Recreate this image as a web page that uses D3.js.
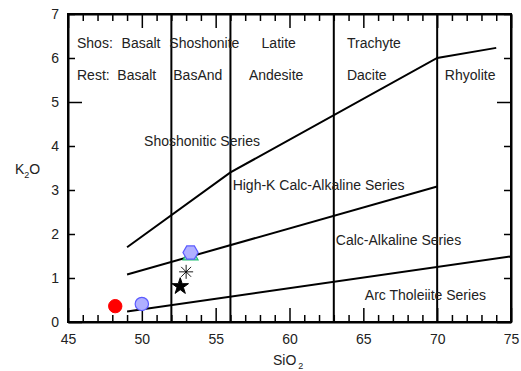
<!DOCTYPE html>
<html>
<head>
<meta charset="utf-8">
<script src="https://cdn.jsdelivr.net/npm/d3@7"></script>
<style>
  body { margin: 0; background: #fff; }
  text { font-family: "Liberation Sans", Arial, sans-serif; }
</style>
</head>
<body>
<div id="chart"></div>
<script>
// boundary lines (SiO2, K2O)
const shosBoundary = [[49, 1.7], [56, 3.4], [70, 6.0], [74, 6.23]];
const highKBoundary = [[49, 1.08], [70, 3.08]];
const thBoundary = [[49, 0.24], [75, 1.49]];
const siO2Dividers = [52, 56, 63, 70];

// rock names
const shosNames = ['Shos:', 'Basalt', 'Shoshonite', 'Latite', 'Trachyte'];
const restNames = ['Rest:', 'Basalt', 'BasAnd', 'Andesite', 'Dacite', 'Rhyolite'];
const seriesNames = ['Shoshonitic Series', 'High-K Calc-Alkaline Series', 'Calc-Alkaline Series', 'Arc Tholeiite Series'];

// samples
const sampleSiO2 = [48.2, 50.0, 53.3, 53.3, 53.0, 52.6];
const sampleK2O = [0.36, 0.41, 1.51, 1.58, 1.14, 0.81];

const xTicks = [45, 50, 55, 60, 65, 70, 75];
const yTicks = [0, 1, 2, 3, 4, 5, 6, 7];

const width = 521, height = 371;
const margin = {top: 14, right: 10, bottom: 49, left: 68};

const svg = d3.select('#chart')
	.append('svg')
	.attr('width', width)
	.attr('height', height);

const x = d3.scaleLinear().domain([45, 75]).range([margin.left, width - margin.right]);
const y = d3.scaleLinear().domain([0, 7]).range([height - margin.bottom, margin.top]);

const line = d3.line().x(d => x(d[0])).y(d => y(d[1]));

// divider verticals
svg.append('g')
	.selectAll('line')
	.data(siO2Dividers)
	.enter()
	.append('line')
	.attr('x1', d => x(d)).attr('x2', d => x(d))
	.attr('y1', y(0)).attr('y2', y(7))
	.attr('stroke', '#000')
	.attr('stroke-width', 2);

[shosBoundary, highKBoundary, thBoundary].forEach(b => {
	svg.append('path')
		.attr('d', line(b))
		.attr('fill', 'none')
		.attr('stroke', '#000')
		.attr('stroke-width', 2);
});

// axes: major every 5 / 1, minor every 1
function drawAxis(axisFn, scale, translate, major, minor, labels) {
	svg.append('g')
		.attr('transform', translate)
		.call(axisFn(scale).tickValues(minor).tickSize(-7).tickFormat(''))
		.call(g => g.select('.domain').remove())
		.selectAll('line').attr('stroke-width', 1.5);
	const g = svg.append('g')
		.attr('transform', translate)
		.call(axisFn(scale).tickValues(major).tickSize(-14).tickSizeOuter(0).tickPadding(labels ? labels : 0)
			.tickFormat(labels ? d3.format('d') : ''));
	g.select('.domain').attr('stroke-width', 2);
	g.selectAll('line').attr('stroke-width', 1.5);
	g.selectAll('text').attr('font-size', 14).attr('fill', '#222')
		.attr('font-family', '"Liberation Sans", Arial, sans-serif');
	return g;
}

const xMinor = d3.range(46, 75).filter(d => d % 5 != 0);
drawAxis(d3.axisBottom, x, `translate(0,${y(0)})`, xTicks, xMinor, 12);
drawAxis(d3.axisTop, x, `translate(0,${y(7)})`, xTicks, xMinor, 0);

const yMinor = yTicks.filter(d => d % 5 != 0);
drawAxis(d3.axisLeft, y, `translate(${x(45)},0)`, [0, 5], yMinor, 0);
drawAxis(d3.axisRight, y, `translate(${x(75)},0)`, [0, 5], yMinor, 0);

// y labels every unit
svg.append('g')
	.selectAll('text')
	.data(yTicks)
	.enter()
	.append('text')
	.attr('x', x(45) - 9)
	.attr('y', d => y(d))
	.attr('dy', '0.36em')
	.attr('text-anchor', 'end')
	.attr('font-size', 14)
	.attr('fill', '#222')
	.text(d => d);

// frame
svg.append('rect')
	.attr('x', x(45)).attr('y', y(7))
	.attr('width', x(75) - x(45)).attr('height', y(0) - y(7))
	.attr('fill', 'none')
	.attr('stroke', '#000')
	.attr('stroke-width', 2);

// rock names
const shosAt = [45.61, 48.63, 51.86, 58.11, 63.89];
const restAt = [45.61, 48.34, 52.13, 57.25, 63.89, 70.52];
const seriesAt = [[50.15, 4.0], [56.15, 3.0], [63.14, 1.76], [65.1, 0.51]];

function addLabels(names, pos) {
	svg.append('g')
		.selectAll('text')
		.data(names)
		.enter()
		.append('text')
		.attr('x', (d, i) => x(pos[i][0]))
		.attr('y', (d, i) => y(pos[i][1]))
		.attr('font-size', 14)
		.attr('fill', '#222')
		.text(d => d);
}
addLabels(shosNames, shosAt.map(d => [d, 6.23]));
addLabels(restNames, restAt.map(d => [d, 5.5]));
addLabels(seriesNames, seriesAt);

// axis titles
const kt = svg.append('text')
	.attr('x', 15).attr('y', 174)
	.attr('font-size', 14).attr('fill', '#222');
kt.append('tspan').text('K');
kt.append('tspan').attr('font-size', 9).attr('dy', 4).text('2');
kt.append('tspan').attr('dy', -4).text('O');

const st = svg.append('text')
	.attr('x', 273).attr('y', 365)
	.attr('font-size', 14).attr('fill', '#222');
st.append('tspan').text('SiO');
st.append('tspan').attr('font-size', 9).attr('dx', 2).attr('dy', 4).text('2');

// samples
const hexagon = {
	draw(ctx, size) {
		const r = Math.sqrt(size / (1.5 * Math.sqrt(3)));
		for (let k = 0; k < 6; k++) {
			const a = k * Math.PI / 3;
			if (k == 0) ctx.moveTo(r * Math.cos(a), r * Math.sin(a));
			else ctx.lineTo(r * Math.cos(a), r * Math.sin(a));
		}
		ctx.closePath();
	}
};
// 8-armed asterisk
const asterisk8 = {
	draw(ctx, size) {
		const r = Math.sqrt(size) / 2;
		for (let k = 0; k < 4; k++) {
			const a = k * Math.PI / 4;
			ctx.moveTo(r * Math.cos(a), r * Math.sin(a));
			ctx.lineTo(-r * Math.cos(a), -r * Math.sin(a));
		}
	}
};
const sampleStyle = [
	{type: d3.symbolCircle, size: 140, fill: '#ff0000', stroke: '#ff0000', sw: 1},
	{type: d3.symbolCircle, size: 140, fill: '#b0b0ff', stroke: '#5a5aff', sw: 1.2},
	{type: d3.symbolTriangle, size: 97, fill: '#a0f0c8', stroke: '#20c070', sw: 1.2},
	{type: hexagon, size: 150, fill: '#b0b0ff', stroke: '#5a5aff', sw: 1.2},
	{type: asterisk8, size: 196, fill: 'none', stroke: '#000', sw: 0.9},
	{type: d3.symbolStar, size: 85, fill: '#000', stroke: '#000', sw: 1}
];

svg.append('g')
	.selectAll('path')
	.data(sampleSiO2.map((d, i) => [d, sampleK2O[i], i]))
	.enter()
	.append('path')
	.attr('transform', d => `translate(${x(d[0])},${y(d[1])})`)
	.attr('d', d => d3.symbol(sampleStyle[d[2]].type, sampleStyle[d[2]].size)())
	.attr('fill', d => sampleStyle[d[2]].fill)
	.attr('stroke', d => sampleStyle[d[2]].stroke)
	.attr('stroke-width', d => sampleStyle[d[2]].sw);
</script>
</body>
</html>
